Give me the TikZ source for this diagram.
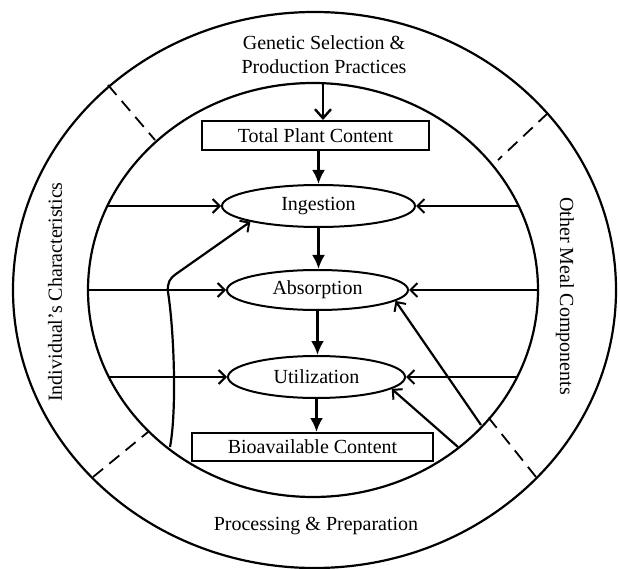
\documentclass[tikz,border=0pt]{standalone}
\usepackage{fontspec}
\setmainfont{Liberation Serif}
\usetikzlibrary{arrows.meta,shapes.geometric,calc}
\begin{document}
\begin{tikzpicture}[x=1pt,y=-1pt,
  every node/.style={font=\fontsize{20}{24}\selectfont},
  ring/.style={line width=2.2pt},
  divider/.style={line width=1.8pt, dash pattern=on 13pt off 8pt},
  stage/.style={draw, ellipse, line width=2pt, inner sep=0pt},
  contentbox/.style={draw, rectangle, line width=2pt, inner sep=0pt},
  down/.style={line width=2.6pt, -{Latex[length=14pt,width=13pt]}},
  side/.style={line width=2.2pt, -{Straight Barb[length=7pt,width=14pt,line width=2pt]}},
  topin/.style={line width=2.2pt, -{Straight Barb[length=9pt,width=16pt,line width=2.4pt]}},
]
\useasboundingbox (0,0) rectangle (618,569);
% rings
\draw[ring] (314.5,290) ellipse [x radius=301.5, y radius=278];
\draw[ring] (313,290) ellipse [x radius=225, y radius=207];
% dividers
\draw[divider] (108,85) -- (155,140);
\draw[divider] (548,113) -- (498,160);
\draw[divider] (93,477) -- (148,432);
\draw[divider] (536,477) -- (488,417);
% ring labels
\node[align=center] (gen) at (324,55) {Genetic Selection \&\\Production Practices};
\node (proc) at (316,526) {Processing \& Preparation};
\node[rotate=90] (indiv) at (55,292) {Individual's Characteristics};
\node[rotate=-90] (other) at (565,296) {Other Meal Components};
% central chain
\node[contentbox, minimum width=227, minimum height=29] (tot) at (315.5,135.5) {Total Plant Content};
\node[contentbox, minimum width=241, minimum height=28] (bio) at (312.5,447) {Bioavailable Content};
\node[stage, minimum width=193, minimum height=42] (ing) at (318.5,206) {Ingestion};
\node[stage, minimum width=181, minimum height=40] (abs) at (317.5,290) {Absorption};
\node[stage, minimum width=177, minimum height=42] (uti) at (316.5,377) {Utilization};
% vertical arrows
\coordinate (gtop) at (323,83);
\draw[topin] (gtop) -- (gtop |- tot.north);
\draw[down] (tot.south -| ing.north) -- (ing.north);
\draw[down] (ing.south) -- (ing.south |- abs.north);
\draw[down] (abs.south) -- (abs.south |- uti.north);
\draw[down] (uti.south) -- (uti.south |- bio.north);
% left arrows
\coordinate (li) at (108,206);
\coordinate (la) at (88,290);
\coordinate (lu) at (109,377);
\draw[side] (li) -- (ing.west);
\draw[side] (la) -- (abs.west);
\draw[side] (lu) -- (uti.west);
% right arrows
\coordinate (ri) at (518,206);
\coordinate (ra) at (538,290);
\coordinate (ru) at (517,377);
\draw[side] (ri) -- (ing.east);
\draw[side] (ra) -- (abs.east);
\draw[side] (ru) -- (uti.east);
% diagonal arrows
\coordinate (d1) at (481,425);
\coordinate (d2) at (458,447);
\draw[side] (d1) -- (abs.352);
\draw[side] (d2) -- (uti.351);
% curved arrow from bottom left
\coordinate (cb) at (170,447);
\draw[side] (cb) .. controls (177,410) and (174,330) .. (168,292)
  .. controls (167,283) and (170,278) .. (176,274) -- (ing.193);
\end{tikzpicture}
\end{document}
